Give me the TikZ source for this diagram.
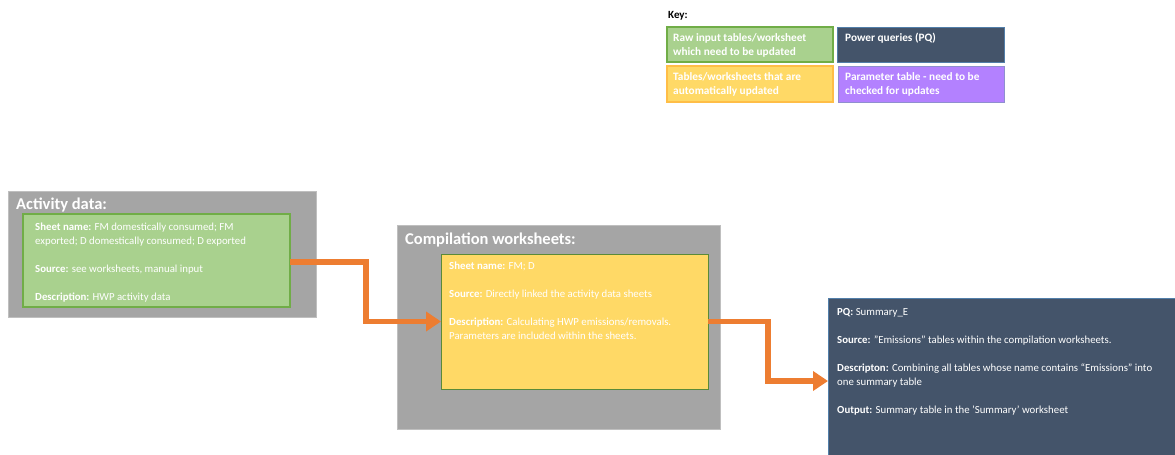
\documentclass[tikz,border=0pt]{standalone}
\usepackage{fontspec}
\setmainfont{Carlito}
\usetikzlibrary{arrows.meta}
\definecolor{outergrey}{HTML}{A5A5A5}
\definecolor{outerline}{HTML}{BFBFBF}
\definecolor{rawgreen}{HTML}{A9D18E}
\definecolor{greenline}{HTML}{70AD47}
\definecolor{autoyellow}{HTML}{FFD966}
\definecolor{pqblue}{HTML}{44546A}
\definecolor{pqline}{HTML}{5B9BD5}
\definecolor{parampurple}{HTML}{B381FF}
\definecolor{purpleline}{HTML}{8F8FCF}
\definecolor{arroworange}{HTML}{ED7D31}
\tikzset{
  box/.style={rectangle, anchor=north west, inner sep=0pt, outer sep=0pt},
  outerbox/.style={box, fill=outergrey, draw=outerline, line width=1pt},
  greenbox/.style={box, fill=rawgreen, draw=greenline, line width=1.2pt},
  yellowbox/.style={box, fill=autoyellow, draw=greenline!80!black, line width=1pt},
  bluebox/.style={box, fill=pqblue, draw=pqline!60!pqblue, line width=1pt},
  purplebox/.style={box, fill=parampurple, draw=purpleline, line width=1pt},
  keygreen/.style={box, fill=rawgreen, draw=greenline, line width=1.2pt},
  keyyellow/.style={box, fill=autoyellow, draw=autoyellow!70!orange, line width=1.2pt},
  title/.style={anchor=west, inner sep=0pt, text=white, font=\fontsize{16.5}{19}\selectfont\bfseries},
  body/.style={anchor=north west, inner sep=0pt, text=white, align=left, font=\fontsize{10.8}{14}\selectfont},
  keytext/.style={anchor=north west, inner sep=0pt, text=white, align=left, font=\fontsize{11.3}{14}\selectfont\bfseries},
  flow/.style={draw=arroworange, line width=5.5pt, -{Triangle[length=15pt,width=19pt]}},
}
\begin{document}
\begin{tikzpicture}[x=1pt,y=-1pt]
\useasboundingbox (0,0) rectangle (1175,455);
% Key
\node[anchor=west, inner sep=0pt, font=\fontsize{11}{12}\selectfont\bfseries] (keylabel) at (668,16) {Key:};
\node[keygreen, minimum width=166pt, minimum height=35pt] (k1) at (667,27) {};
\node[bluebox, minimum width=167pt, minimum height=35pt] (k2) at (837,27) {};
\node[keyyellow, minimum width=166pt, minimum height=36pt] (k3) at (667,66) {};
\node[purplebox, minimum width=166pt, minimum height=36pt] (k4) at (838,66) {};
\node[keytext] (k1t) at (673,33) {Raw input tables/worksheet\\which need to be updated};
\node[keytext] (k2t) at (845,33) {Power queries (PQ)};
\node[keytext] (k3t) at (673,72) {Tables/worksheets that are\\automatically updated};
\node[keytext] (k4t) at (845,72) {Parameter table - need to be\\checked for updates};
% Activity data
\node[outerbox, minimum width=308pt, minimum height=126pt] (act) at (8,191) {};
\node[title] (actt) at (16,205) {Activity data:};
\node[greenbox, minimum width=267pt, minimum height=93pt] (green) at (23,214) {};
\node[body] (greent) at (35,222.5) {\textbf{Sheet name:} FM domestically consumed; FM\\exported; D domestically consumed; D exported\\[14pt]\textbf{Source:} see worksheets, manual input\\[14pt]\textbf{Description:} HWP activity data};
% Compilation worksheets
\node[outerbox, minimum width=323pt, minimum height=204pt] (comp) at (397,225) {};
\node[title] (compt) at (405,240) {Compilation worksheets:};
\node[yellowbox, minimum width=267pt, minimum height=135pt] (yellow) at (441,254) {};
\node[body] (yellowt) at (449,261.5) {\textbf{Sheet name:} FM; D\\[14pt]\textbf{Source:} Directly linked the activity data sheets\\[14pt]\textbf{Description:} Calculating HWP emissions/removals.\\Parameters are included within the sheets.};
% PQ
\node[bluebox, minimum width=350pt, minimum height=160pt] (pq) at (828,298) {};
\node[body] (pqt) at (837,308.5) {\textbf{PQ:} Summary\_E\\[14pt]\textbf{Source:} "Emissions" tables within the compilation worksheets.\\[14pt]\textbf{Descripton:} Combining all tables whose name contains “Emissions” into\\one summary table\\[14pt]\textbf{Output:} Summary table in the 'Summary' worksheet};
% Arrows
\draw[flow] ([yshift=-1.5pt]green.east) -- ++(76,0) |- (yellow.west);
\draw[flow] (yellow.east) -- ++(60,0) |- ([yshift=-3pt]pq.west);
\end{tikzpicture}
\end{document}
